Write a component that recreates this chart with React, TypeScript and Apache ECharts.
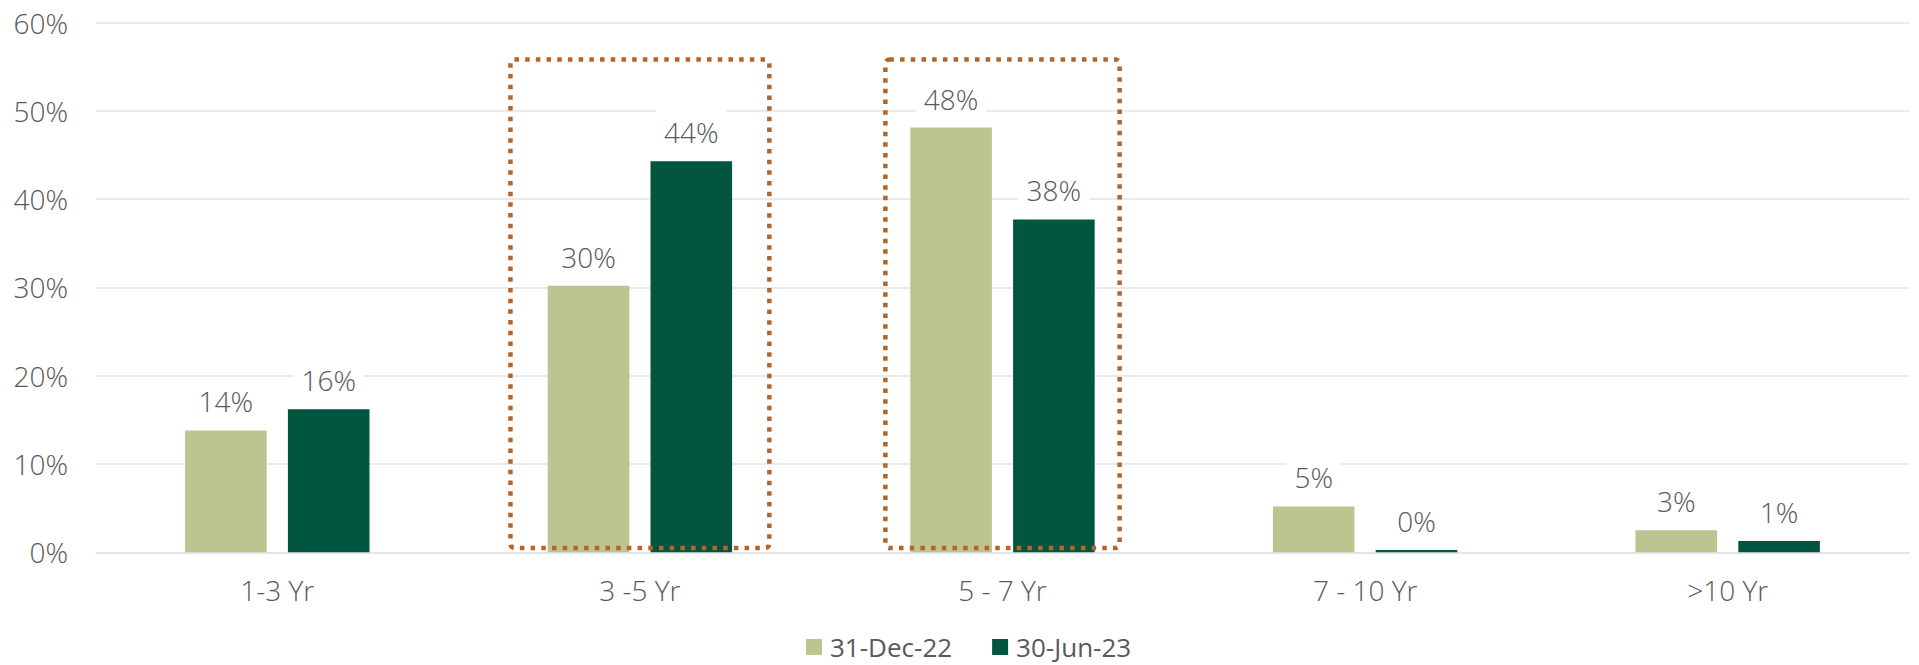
import React, { useEffect, useRef } from "react";
import * as echarts from "echarts";

const categories = ["1-3 Yr", "3 -5 Yr", "5 - 7 Yr", "7 - 10 Yr", ">10 Yr"];
const seriesNames = ["31-Dec-22", "30-Jun-23"];
const dec22 = [13.8, 30.2, 48.1, 5.2, 2.5];
const jun23 = [16.2, 44.3, 37.7, 0.26, 1.28];
const highlightCats = ["3 -5 Yr", "5 - 7 Yr"];
const highlightLow = [0.5, 0.5];
const highlightHigh = [55.8, 55.8];
const highlightSpan = [0.714, 0.646];

const FONT = "'Open Sans', 'Noto Sans', sans-serif";
const GREY = "#595959";
const GRID = "#E3E3E3";
const LIGHT = "#BEC490";
const DARK = "#02563F";
const BOX = "#B5652A";

export default function App() {
  const ref = useRef<HTMLDivElement>(null);
  useEffect(() => {
    if (!ref.current) return;
    const chart = echarts.init(ref.current, null, { renderer: "svg" });
    const label = {
      show: true,
      position: "top",
      distance: 9,
      formatter: (p: any) => Math.round(p.value) + "%",
      fontFamily: FONT,
      fontSize: 28,
      fontWeight: 300,
      lineHeight: 28,
      color: GREY,
      backgroundColor: "#ffffff",
      padding: [10, 8, 6, 8],
    };
    const boxData = highlightCats.map((c, i) => [
      categories.indexOf(c),
      highlightLow[i],
      highlightHigh[i],
      highlightSpan[i],
    ]);
    chart.setOption({
      animation: false,
      textStyle: { fontFamily: FONT },
      grid: { left: 96, right: 10, top: 22.5, bottom: 112.7, containLabel: false },
      legend: {
        data: seriesNames,
        left: 806,
        top: 634,
        itemWidth: 16,
        itemHeight: 16,
        itemGap: 40,
        padding: 0,
        icon: "rect",
        textStyle: {
          fontFamily: FONT,
          fontSize: 26,
          lineHeight: 26,
          color: GREY,
          padding: [0, 0, 0, 3],
        },
      },
      xAxis: {
        type: "category",
        data: categories,
        axisTick: { show: false },
        axisLine: { show: true, lineStyle: { color: GRID, width: 1.5 } },
        axisLabel: { fontFamily: FONT, fontSize: 28, fontWeight: 300, color: GREY, margin: 24 },
      },
      yAxis: {
        type: "value",
        min: 0,
        max: 60,
        interval: 10,
        axisLine: { show: false },
        axisTick: { show: false },
        splitLine: { lineStyle: { color: GRID, width: 1.5 } },
        axisLabel: {
          formatter: "{value}%",
          fontFamily: FONT,
          fontSize: 28,
          fontWeight: 300,
          color: GREY,
          margin: 28,
        },
      },
      series: [
        {
          name: seriesNames[0],
          type: "bar",
          data: dec22,
          barWidth: "22.5%",
          barGap: "26%",
          itemStyle: { color: LIGHT },
          label,
          z: 2,
        },
        {
          name: seriesNames[1],
          type: "bar",
          data: jun23,
          barWidth: "22.5%",
          barGap: "26%",
          itemStyle: { color: DARK },
          label,
          z: 2,
        },
        {
          name: "highlight",
          type: "custom",
          data: boxData,
          z: 10,
          silent: true,
          renderItem: (params: any, api: any) => {
            const idx = api.value(0);
            const lo = api.coord([idx, api.value(1)]);
            const hi = api.coord([idx, api.value(2)]);
            const band = api.size([1, 0])[0];
            const w = band * api.value(3);
            return {
              type: "rect",
              shape: { x: lo[0] - w / 2, y: hi[1], width: w, height: lo[1] - hi[1], r: 4 },
              style: { fill: "none", stroke: BOX, lineWidth: 4.5, lineDash: [4.5, 6.2] },
            };
          },
        },
      ],
    });
    return () => chart.dispose();
  }, []);
  return (
    <div
      ref={ref}
      style={{ position: "fixed", left: 0, top: 0, width: 1919, height: 665, background: "#fff" }}
    />
  );
}
